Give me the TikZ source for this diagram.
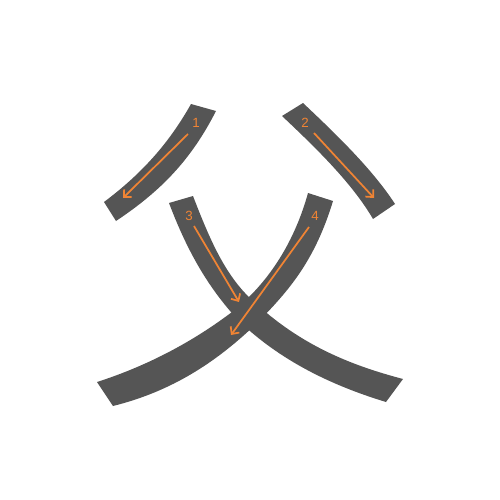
\documentclass[tikz,border=0pt]{standalone}
\usepackage{fontspec}
\setmainfont{Liberation Sans}
\usetikzlibrary{arrows.meta}

\definecolor{strokegray}{RGB}{85,85,85}
\definecolor{arroworange}{RGB}{240,132,52}

\tikzset{every picture/.style={line width=0.75pt}}
\tikzset{
  kanjistroke/.style={fill=strokegray, draw=none},
  orderarrow/.style={draw=arroworange, line width=1.3pt, -{Straight Barb[length=4.2pt,width=8pt]}},
  ordernum/.style={text=arroworange, inner sep=0.75pt, font=\fontsize{10}{11}\selectfont}
}

\begin{document}
\begin{tikzpicture}[x=0.75pt,y=0.75pt,yscale=-1,xscale=1]
\path[use as bounding box] (0,0) rectangle (500,500); %set diagram 500 by 500

%Shape: Stroke 1 [id:ds1] 
\fill[kanjistroke] (191,104) -- (216,111) .. controls (191,160) and (161,191) .. (116,221) -- (104,202) .. controls (140,175) and (168,145) .. (191,104) -- cycle ;
%Shape: Stroke 2 [id:ds2] 
\fill[kanjistroke] (282,116) -- (303,103) .. controls (337,135) and (373,170) .. (395,204) -- (373,219) .. controls (352,183) and (316,148) .. (282,116) -- cycle ;
%Shape: Stroke 3 [id:ds3] 
\fill[kanjistroke] (169,203) -- (193,196) .. controls (210,240) and (225,275) .. (252,300) .. controls (300,345) and (350,365) .. (403,379) -- (386,402) .. controls (330,385) and (280,360) .. (240,322) .. controls (205,285) and (185,245) .. (169,203) -- cycle ;
%Shape: Stroke 4 [id:ds4] 
\fill[kanjistroke] (308,193) -- (333,201) .. controls (315,260) and (290,290) .. (255,325) .. controls (210,368) and (165,393) .. (113,406) -- (97,382) .. controls (150,365) and (195,340) .. (232,312) .. controls (270,282) and (295,240) .. (308,193) -- cycle ;

%Arrow ends
\coordinate (s1) at (188,134); \coordinate (e1) at (123,198);
\coordinate (s2) at (314,133); \coordinate (e2) at (374,198);
\coordinate (s3) at (194,226); \coordinate (e3) at (239,302);
\coordinate (s4) at (309,227); \coordinate (e4) at (231,335);

%Straight Lines [id:da1] 
\draw[orderarrow] (s1) -- (e1) ;
%Straight Lines [id:da2] 
\draw[orderarrow] (s2) -- (e2) ;
%Straight Lines [id:da3] 
\draw[orderarrow] (s3) -- (e3) ;
%Straight Lines [id:da4] 
\draw[orderarrow] (s4) -- (e4) ;

% Text Node
\node[ordernum] (n1) at (196,123) {1};
% Text Node
\node[ordernum] (n2) at (305,123) {2};
% Text Node
\node[ordernum] (n3) at (189,216) {3};
% Text Node
\node[ordernum] (n4) at (315,216) {4};

\end{tikzpicture}
\end{document}
